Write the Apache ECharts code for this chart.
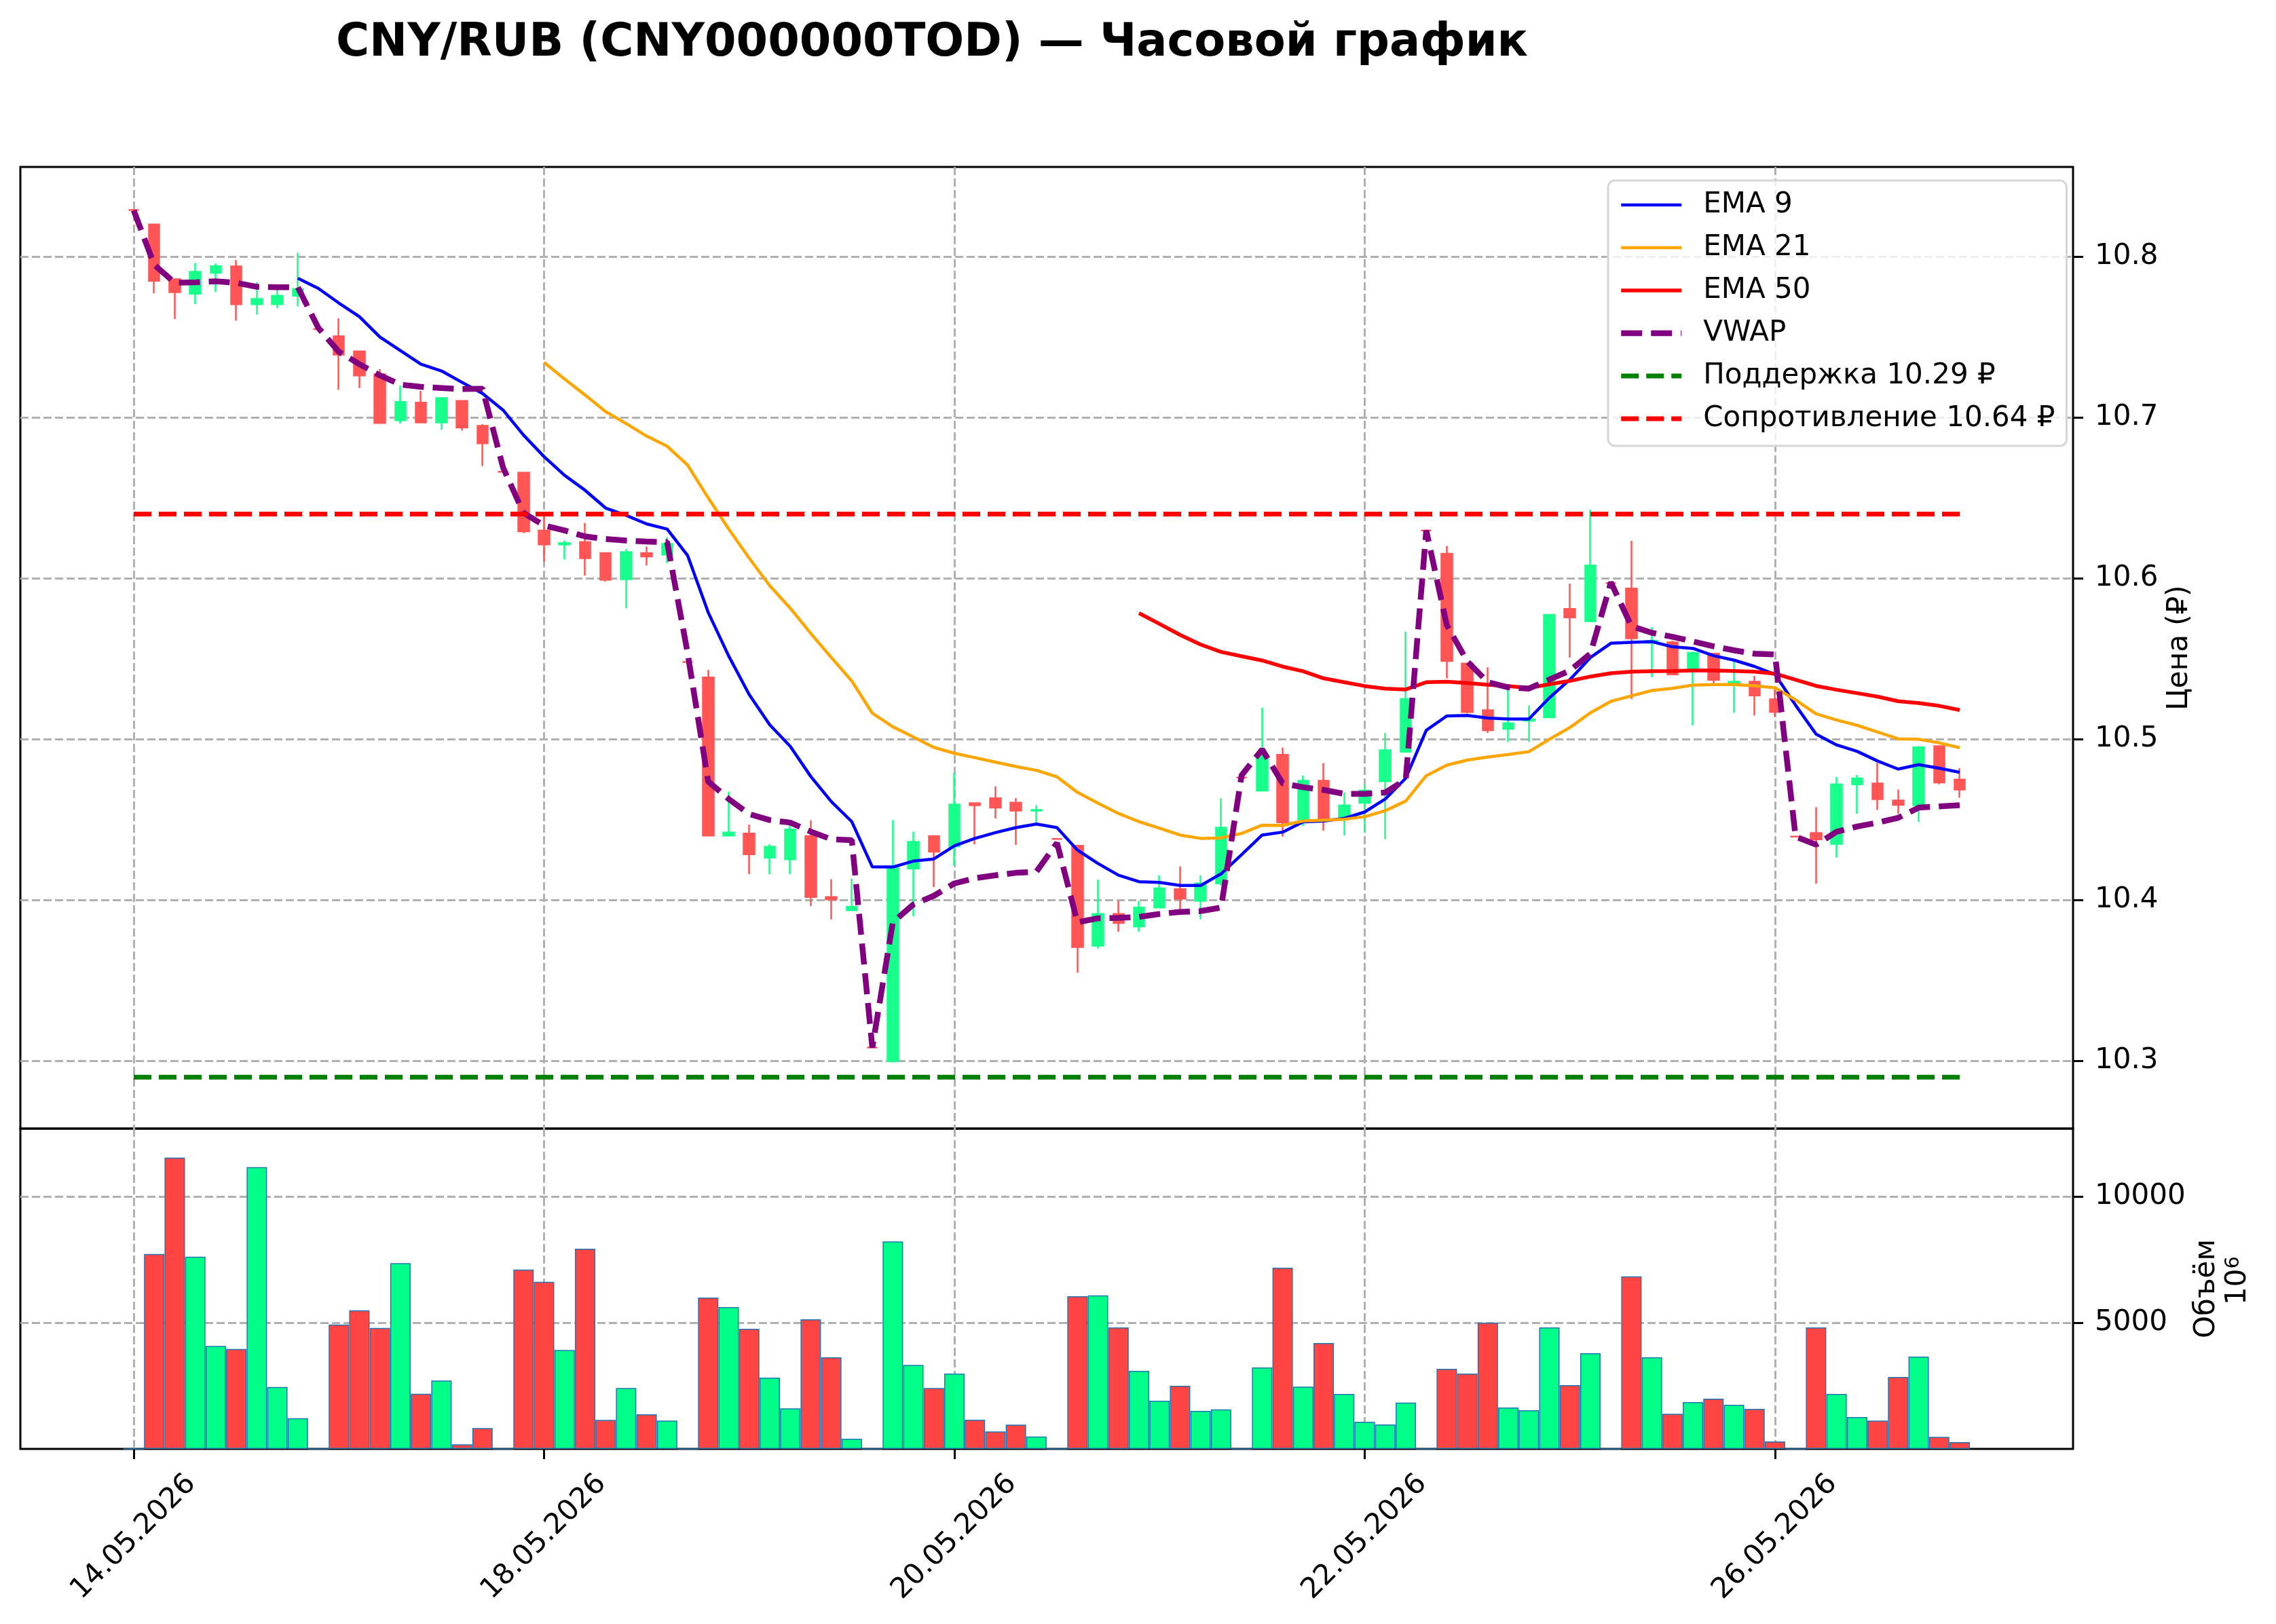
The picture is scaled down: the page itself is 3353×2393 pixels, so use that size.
<!DOCTYPE html>
<html lang="ru">
<head>
<meta charset="utf-8">
<title>CNY/RUB — Часовой график</title>
<script src="https://cdn.jsdelivr.net/npm/echarts@6/dist/echarts.min.js"></script>
<style>
  html, body { margin: 0; padding: 0; background: #fff; }
  #chart { width: 3353px; height: 2393px; }
</style>
</head>
<body>
<div id="chart"></div>
<script>
// hourly candles, index 0..89 (9 candles per trading day)
const tickIdx = [0, 20, 40, 60, 80];
const tickLabels = ['14.05.2026', '18.05.2026', '20.05.2026', '22.05.2026', '26.05.2026'];

const openPrice = [
  10.829, 10.820, 10.786, 10.777, 10.790, 10.794, 10.7705, 10.7705, 10.7757, 10.755,
  10.7505, 10.7412, 10.7269, 10.6983, 10.7093, 10.6970, 10.7104, 10.6949, 10.6663, 10.6657,
  10.6298, 10.6211, 10.6226, 10.6158, 10.5995, 10.6158, 10.6148, 10.5480, 10.5384, 10.4401,
  10.4414, 10.4264, 10.4254, 10.4398, 10.4020, 10.3937, 10.3084, 10.3000, 10.4197, 10.4398,
  10.4334, 10.4603, 10.4634, 10.4606, 10.4557, 10.4380, 10.4338, 10.3717, 10.3914, 10.3836,
  10.3954, 10.4068, 10.3995, 10.4104, 10.4762, 10.4681, 10.4903, 10.4500, 10.4742, 10.4516,
  10.4605, 10.4739, 10.4923, 10.6298, 10.6153, 10.5471, 10.5181, 10.5065, 10.5116, 10.5137,
  10.5810, 10.5734, 10.5971, 10.5937, 10.5600, 10.5603, 10.5428, 10.5532, 10.5350, 10.5358,
  10.5248, 10.4395, 10.4417, 10.4350, 10.4720, 10.4725, 10.4620, 10.4590, 10.4957, 10.4750
];
const closePrice = [
  10.829, 10.785, 10.778, 10.7906, 10.7941, 10.7705, 10.7737, 10.7758, 10.7800, 10.755,
  10.7392, 10.7262, 10.6966, 10.7097, 10.6970, 10.7121, 10.6938, 10.6840, 10.6663, 10.6292,
  10.6211, 10.6220, 10.6126, 10.5992, 10.6164, 10.6136, 10.6214, 10.5480, 10.4401, 10.4420,
  10.4285, 10.4332, 10.4439, 10.4020, 10.4005, 10.3958, 10.3084, 10.4206, 10.4362, 10.4301,
  10.4594, 10.4590, 10.4575, 10.4557, 10.4561, 10.4380, 10.3708, 10.3914, 10.3858, 10.3954,
  10.4073, 10.4009, 10.4104, 10.4451, 10.4762, 10.4903, 10.4484, 10.4742, 10.4508, 10.4589,
  10.4681, 10.4932, 10.5250, 10.6298, 10.5487, 10.5169, 10.5056, 10.5100, 10.5124, 10.5774,
  10.5758, 10.6081, 10.5971, 10.5628, 10.5612, 10.5403, 10.5537, 10.5370, 10.5358, 10.5273,
  10.5170, 10.4395, 10.4378, 10.4720, 10.4757, 10.4628, 10.4592, 10.4950, 10.4732, 10.4687
];
const lowPrice = [
  10.829, 10.7772, 10.7613, 10.7705, 10.7782, 10.7602, 10.7639, 10.7681, 10.7691, 10.755,
  10.7173, 10.7184, 10.6963, 10.6962, 10.6970, 10.6924, 10.6920, 10.6699, 10.6663, 10.6282,
  10.6105, 10.6117, 10.6017, 10.5980, 10.5814, 10.6080, 10.6095, 10.5480, 10.4401, 10.4401,
  10.4161, 10.4161, 10.4161, 10.3964, 10.3880, 10.3937, 10.3084, 10.2990, 10.3900, 10.4082,
  10.4214, 10.4347, 10.4508, 10.4343, 10.4480, 10.4380, 10.3549, 10.3699, 10.3805, 10.3805,
  10.3954, 10.3921, 10.3881, 10.4091, 10.4762, 10.4681, 10.4395, 10.4460, 10.4432, 10.4403,
  10.4419, 10.4379, 10.4923, 10.6298, 10.5379, 10.5161, 10.5040, 10.4984, 10.4984, 10.5137,
  10.5508, 10.5734, 10.5971, 10.5250, 10.5387, 10.5400, 10.5087, 10.5345, 10.5165, 10.5148,
  10.5142, 10.4395, 10.4103, 10.4265, 10.4537, 10.4562, 10.4537, 10.4487, 10.4720, 10.4637
];
const highPrice = [
  10.829, 10.8204, 10.7859, 10.7962, 10.7958, 10.7979, 10.7841, 10.7796, 10.8024, 10.755,
  10.7616, 10.7412, 10.7301, 10.7198, 10.7166, 10.7121, 10.7104, 10.6959, 10.6663, 10.6657,
  10.6392, 10.6236, 10.6345, 10.6158, 10.6183, 10.6198, 10.6257, 10.5480, 10.5431, 10.4676,
  10.4470, 10.4348, 10.4488, 10.4496, 10.4130, 10.4133, 10.3084, 10.4499, 10.4426, 10.4398,
  10.4791, 10.4603, 10.4707, 10.4636, 10.4590, 10.4380, 10.4338, 10.4128, 10.3995, 10.3995,
  10.4155, 10.4210, 10.4155, 10.4634, 10.4762, 10.5197, 10.4948, 10.4774, 10.4852, 10.4669,
  10.4718, 10.5040, 10.5669, 10.6298, 10.6202, 10.5471, 10.5448, 10.5323, 10.5210, 10.5774,
  10.5968, 10.6427, 10.5971, 10.6233, 10.5698, 10.5612, 10.5545, 10.5532, 10.5495, 10.5395,
  10.5312, 10.4395, 10.4578, 10.4765, 10.4778, 10.4853, 10.4687, 10.4958, 10.4957, 10.4820
];
// volume, millions
const volume = [
  0, 7731, 11552, 7623, 4081, 3964, 11175, 2457, 1220, 0,
  4933, 5498, 4798, 7363, 2188, 2709, 179, 825, 0, 7112,
  6628, 3919, 7937, 1148, 2413, 1372, 1121, 0, 6000, 5623,
  4762, 2825, 1605, 5139, 3632, 404, 0, 8224, 3327, 2413,
  2987, 1157, 691, 960, 493, 0, 6054, 6090, 4816, 3094,
  1910, 2502, 1507, 1570, 0, 3229, 7184, 2466, 4197, 2179,
  1076, 969, 1839, 0, 3175, 2987, 5004, 1641, 1534, 4816,
  2529, 3794, 0, 6843, 3632, 1390, 1857, 1991, 1749, 1587,
  296, 0, 4816, 2179, 1265, 1121, 2852, 3659, 475, 269
];
const ema9 = [
  null, null, null, null, null, null, null, null, 10.7866, 10.7803,
  10.7712, 10.7627, 10.7501, 10.7416, 10.7332, 10.7290, 10.7219, 10.7150, 10.7047, 10.6891,
  10.6757, 10.6641, 10.6548, 10.6438, 10.6392, 10.6339, 10.6307, 10.6142, 10.5789, 10.5518,
  10.5278, 10.5090, 10.4956, 10.4769, 10.4613, 10.4488, 10.4207, 10.4206, 10.4243, 10.4256,
  10.4338, 10.4384, 10.4420, 10.4451, 10.4473, 10.4451, 10.4311, 10.4228, 10.4155, 10.4115,
  10.4110, 10.4091, 10.4091, 10.4164, 10.4283, 10.4405, 10.4423, 10.4487, 10.4492, 10.4508,
  10.4548, 10.4629, 10.4758, 10.5056, 10.5145, 10.5148, 10.5132, 10.5126, 10.5126, 10.5258,
  10.5371, 10.5508, 10.5597, 10.5603, 10.5607, 10.5575, 10.5565, 10.5520, 10.5492, 10.5453,
  10.5403, 10.5212, 10.5032, 10.4965, 10.4925, 10.4865, 10.4815, 10.4842, 10.4820, 10.4795
];
const ema21 = [
  null, null, null, null, null, null, null, null, null, null,
  null, null, null, null, null, null, null, null, null, null,
  10.7343, 10.7240, 10.7140, 10.7037, 10.6963, 10.6885, 10.6822, 10.6704, 10.6501, 10.6307,
  10.6126, 10.5955, 10.5815, 10.5658, 10.5509, 10.5362, 10.5162, 10.5078, 10.5014, 10.4950,
  10.4913, 10.4886, 10.4858, 10.4831, 10.4807, 10.4767, 10.4670, 10.4603, 10.4539, 10.4488,
  10.4447, 10.4405, 10.4384, 10.4387, 10.4415, 10.4466, 10.4465, 10.4492, 10.4497, 10.4503,
  10.4519, 10.4556, 10.4616, 10.4774, 10.4839, 10.4871, 10.4890, 10.4906, 10.4923, 10.5000,
  10.5073, 10.5165, 10.5236, 10.5270, 10.5303, 10.5317, 10.5337, 10.5340, 10.5340, 10.5333,
  10.5320, 10.5245, 10.5158, 10.5120, 10.5087, 10.5045, 10.5003, 10.5000, 10.4978, 10.4948
];
const ema50 = [
  null, null, null, null, null, null, null, null, null, null,
  null, null, null, null, null, null, null, null, null, null,
  null, null, null, null, null, null, null, null, null, null,
  null, null, null, null, null, null, null, null, null, null,
  null, null, null, null, null, null, null, null, null, 10.5784,
  10.5717, 10.5649, 10.5589, 10.5543, 10.5516, 10.5490, 10.5452, 10.5423, 10.5379, 10.5355,
  10.5331, 10.5315, 10.5310, 10.5355, 10.5358, 10.5350, 10.5339, 10.5331, 10.5319, 10.5342,
  10.5363, 10.5390, 10.5411, 10.5420, 10.5423, 10.5425, 10.5428, 10.5428, 10.5425, 10.5420,
  10.5408, 10.5370, 10.5332, 10.5308, 10.5287, 10.5265, 10.5237, 10.5225, 10.5208, 10.5182
];
const vwap = [
  10.8288, 10.7950, 10.7838, 10.7841, 10.7847, 10.7838, 10.7813, 10.7810, 10.7810, 10.7557,
  10.7409, 10.7332, 10.7262, 10.7205, 10.7191, 10.7184, 10.7177, 10.7180, 10.6690, 10.6407,
  10.6329, 10.6298, 10.6261, 10.6245, 10.6236, 10.6229, 10.6226, 10.5534, 10.4738, 10.4629,
  10.4535, 10.4498, 10.4482, 10.4426, 10.4379, 10.4373, 10.3084, 10.3863, 10.3973, 10.4027,
  10.4104, 10.4137, 10.4155, 10.4170, 10.4177, 10.4356, 10.3863, 10.3887, 10.3890, 10.3896,
  10.3914, 10.3927, 10.3932, 10.3954, 10.4776, 10.4937, 10.4726, 10.4702, 10.4685, 10.4661,
  10.4661, 10.4669, 10.4750, 10.6298, 10.5710, 10.5484, 10.5355, 10.5323, 10.5315, 10.5371,
  10.5427, 10.5532, 10.5976, 10.5703, 10.5662, 10.5637, 10.5608, 10.5578, 10.5553, 10.5532,
  10.5528, 10.4395, 10.4345, 10.4425, 10.4458, 10.4482, 10.4512, 10.4575, 10.4583, 10.4590
];
const supportLevel = 10.29;
const resistanceLevel = 10.64;
const priceTicks = [10.3, 10.4, 10.5, 10.6, 10.7, 10.8];
const volumeTicks = [5000, 10000];

const FONT = 'DejaVu Sans';
const GRID_LINE = { color: '#b0b0b0', width: 3, type: [12, 5] };
const upColor = '#19ff8c', downColor = '#ff5555';
const volUp = '#00ff88', volDown = '#ff4444';
const lastIdx = openPrice.length - 1;

function pairs(arr) {
  const out = [];
  arr.forEach((v, i) => { if (v != null) out.push([i, v]); });
  return out;
}

const candleData = openPrice.map((o, i) => [i, o, closePrice[i], lowPrice[i], highPrice[i]]);
const volumeData = volume.map((v, i) => ({
  value: [i, v],
  itemStyle: { color: closePrice[i] > openPrice[i] ? volUp : volDown }
}));

const supportName = 'Поддержка ' + supportLevel.toFixed(2) + ' ₽';
const resistName = 'Сопротивление ' + resistanceLevel.toFixed(2) + ' ₽';

let chart = echarts.init(document.getElementById('chart'));

let xCommon = {
  type: 'value',
  min: -5.525,
  max: 94.525,
  axisLine: { show: false, onZero: false },
  splitLine: { show: true, lineStyle: GRID_LINE }
};

let option = {
  animation: false,
  backgroundColor: '#fff',
  textStyle: { fontFamily: FONT },
  title: {
    text: 'CNY/RUB (CNY000000TOD) — Часовой график',
    left: 1373,
    top: 31,
    padding: 0,
    textAlign: 'center',
    textStyle: { fontFamily: FONT, fontSize: 67, fontWeight: 'bold', color: '#000' }
  },
  legend: {
    orient: 'vertical',
    left: 2369,
    top: 266,
    padding: [12, 17, 16, 15],
    itemWidth: 89,
    itemHeight: 20,
    itemGap: 15,
    itemStyle: { opacity: 0 },
    backgroundColor: 'rgba(255,255,255,0.8)',
    borderColor: '#d6d6d6',
    borderWidth: 3,
    borderRadius: 10,
    textStyle: { fontFamily: FONT, fontSize: 42, color: '#000', lineHeight: 48, padding: [0, 0, 0, 27] },
    data: [
      { name: 'EMA 9', lineStyle: { width: 4.5 } },
      { name: 'EMA 21', lineStyle: { width: 4.5 } },
      { name: 'EMA 50', lineStyle: { width: 5.5 } },
      { name: 'VWAP', lineStyle: { width: 8.5 } },
      { name: supportName, lineStyle: { width: 7 } },
      { name: resistName, lineStyle: { width: 7 } }
    ]
  },
  grid: [
    { left: 30, width: 3024, top: 246, height: 1417, show: true, borderColor: '#000', borderWidth: 3, backgroundColor: 'transparent' },
    { left: 30, width: 3024, top: 1663, height: 472, show: true, borderColor: '#000', borderWidth: 3, backgroundColor: 'transparent' }
  ],
  xAxis: [
    Object.assign({}, xCommon, {
      gridIndex: 0,
      axisTick: { show: false, customValues: tickIdx },
      axisLabel: { show: false, customValues: tickIdx }
    }),
    Object.assign({}, xCommon, {
      gridIndex: 1,
      position: 'bottom',
      axisTick: { show: true, customValues: tickIdx, length: 15, lineStyle: { color: '#000', width: 3 } },
      axisLabel: {
        customValues: tickIdx,
        formatter: (v) => { const k = tickIdx.indexOf(v); return k >= 0 ? tickLabels[k] : ''; },
        rotate: 45,
        align: 'center',
        verticalAlign: 'middle',
        margin: 130,
        fontFamily: FONT,
        fontSize: 42,
        color: '#000'
      }
    })
  ],
  yAxis: [
    {
      type: 'value',
      gridIndex: 0,
      position: 'right',
      min: 10.258,
      max: 10.8558,
      axisLine: { show: false, onZero: false },
      axisTick: { show: true, customValues: priceTicks, length: 15, lineStyle: { color: '#000', width: 3 } },
      axisLabel: {
        customValues: priceTicks,
        formatter: (v) => v.toFixed(1),
        margin: 32,
        fontFamily: FONT,
        fontSize: 42,
        color: '#000'
      },
      splitLine: { show: true, lineStyle: GRID_LINE },
      name: 'Цена (₽)',
      nameLocation: 'middle',
      nameRotate: 90,
      nameGap: 134,
      nameTextStyle: { fontFamily: FONT, fontSize: 42, color: '#000' }
    },
    {
      type: 'value',
      gridIndex: 1,
      position: 'right',
      min: 0,
      max: 12700,
      axisLine: { show: false, onZero: false },
      axisTick: { show: true, customValues: volumeTicks, length: 15, lineStyle: { color: '#000', width: 3 } },
      axisLabel: {
        customValues: volumeTicks,
        formatter: (v) => String(v),
        margin: 32,
        fontFamily: FONT,
        fontSize: 42,
        color: '#000'
      },
      splitLine: { show: true, lineStyle: GRID_LINE },
      name: 'Объём',
      nameLocation: 'middle',
      nameRotate: 90,
      nameGap: 172,
      nameTextStyle: { fontFamily: FONT, fontSize: 42, color: '#000' }
    }
  ],
  graphic: [
    {
      type: 'text',
      x: 3297,
      y: 1887,
      rotation: Math.PI / 2,
      style: {
        text: '{n|10}{s|6}',
        fontFamily: FONT,
        fontSize: 42,
        fill: '#000',
        align: 'center',
        verticalAlign: 'middle',
        rich: {
          n: { fontFamily: FONT, fontSize: 42, fill: '#000', color: '#000' },
          s: { fontFamily: FONT, fontSize: 29, fill: '#000', color: '#000', verticalAlign: 'top' }
        }
      }
    }
  ],
  series: [
    {
      name: 'Свечи',
      type: 'candlestick',
      xAxisIndex: 0,
      yAxisIndex: 0,
      data: candleData,
      encode: { x: 0, y: [1, 2, 3, 4] },
      barWidth: 16,
      itemStyle: {
        color: upColor,
        color0: downColor,
        borderColor: upColor,
        borderColor0: downColor,
        borderColorDoji: downColor,
        borderWidth: 2.5
      }
    },
    {
      name: 'EMA 9', type: 'line', xAxisIndex: 0, yAxisIndex: 0,
      data: pairs(ema9), symbol: 'none',
      lineStyle: { color: '#0000ff', width: 4.5 }, itemStyle: { color: '#0000ff' }
    },
    {
      name: 'EMA 21', type: 'line', xAxisIndex: 0, yAxisIndex: 0,
      data: pairs(ema21), symbol: 'none',
      lineStyle: { color: '#ffa500', width: 4.5 }, itemStyle: { color: '#ffa500' }
    },
    {
      name: 'EMA 50', type: 'line', xAxisIndex: 0, yAxisIndex: 0,
      data: pairs(ema50), symbol: 'none',
      lineStyle: { color: '#ff0000', width: 5.5 }, itemStyle: { color: '#ff0000' }
    },
    {
      name: 'VWAP', type: 'line', xAxisIndex: 0, yAxisIndex: 0,
      data: pairs(vwap), symbol: 'none',
      lineStyle: { color: '#800080', width: 8.5, type: [31, 13] }, itemStyle: { color: '#800080' }
    },
    {
      name: supportName, type: 'line', xAxisIndex: 0, yAxisIndex: 0,
      data: [[0, supportLevel], [lastIdx, supportLevel]], symbol: 'none',
      lineStyle: { color: '#008000', width: 7, type: [26, 11] }, itemStyle: { color: '#008000' }
    },
    {
      name: resistName, type: 'line', xAxisIndex: 0, yAxisIndex: 0,
      data: [[0, resistanceLevel], [lastIdx, resistanceLevel]], symbol: 'none',
      lineStyle: { color: '#ff0000', width: 7, type: [26, 11] }, itemStyle: { color: '#ff0000' }
    },
    {
      name: 'Объём', type: 'bar', xAxisIndex: 1, yAxisIndex: 1,
      data: volumeData,
      barWidth: 30,
      itemStyle: { borderColor: '#1f77b4', borderWidth: 1.5 }
    }
  ]
};

chart.setOption(option);
</script>
</body>
</html>
